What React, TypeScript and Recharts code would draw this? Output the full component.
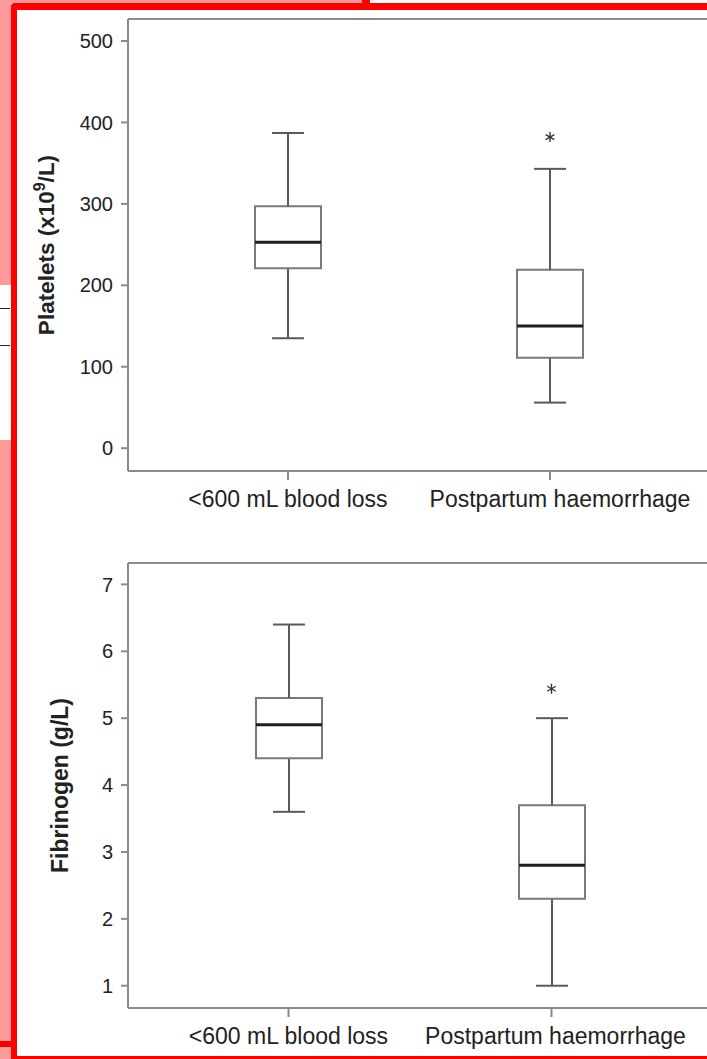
import React from 'react'
import { ComposedChart, Bar, Scatter, XAxis, YAxis, ReferenceLine, Label } from 'recharts'

const groups = ['<600 mL blood loss', 'Postpartum haemorrhage']

const plateletMin = [135, 56]
const plateletQ1 = [221, 111]
const plateletMedian = [253, 150]
const plateletQ3 = [297, 219]
const plateletMax = [387, 343]
const plateletOutlier = [null, 382]
const plateletTicks = [0, 100, 200, 300, 400, 500]

const fibrinogenMin = [3.6, 1.0]
const fibrinogenQ1 = [4.4, 2.3]
const fibrinogenMedian = [4.9, 2.8]
const fibrinogenQ3 = [5.3, 3.7]
const fibrinogenMax = [6.4, 5.0]
const fibrinogenOutlier = [null, 5.44]
const fibrinogenTicks = [1, 2, 3, 4, 5, 6, 7]

const FONT = '"Liberation Sans", Arial, Helvetica, sans-serif'
const AXIS = '#8a8a8a'
const BOX = '#7a7a7a'
const WHISKER = '#5a5a5a'
const TEXT = '#222'

const buildRows = (min: number[], q1: number[], med: number[], q3: number[], max: number[], out: (number | null)[]) =>
  groups.map((g, i) => ({
    group: g,
    base: min[i],
    lowWhisker: q1[i] - min[i],
    lowBox: med[i] - q1[i],
    highBox: q3[i] - med[i],
    highWhisker: max[i] - q3[i],
    outlier: out[i],
  }))

const plateletData = buildRows(plateletMin, plateletQ1, plateletMedian, plateletQ3, plateletMax, plateletOutlier)
const fibrinogenData = buildRows(fibrinogenMin, fibrinogenQ1, fibrinogenMedian, fibrinogenQ3, fibrinogenMax, fibrinogenOutlier)

const Empty = () => <g />

const LowWhisker = (props: any) => {
  const { x, y, width, height } = props
  const cx = x + width / 2
  return (
    <g stroke={WHISKER} strokeWidth={2}>
      <line x1={cx} x2={cx} y1={y} y2={y + height} />
      <line x1={cx - 16} x2={cx + 16} y1={y + height} y2={y + height} />
    </g>
  )
}

const HighWhisker = (props: any) => {
  const { x, y, width, height } = props
  const cx = x + width / 2
  return (
    <g stroke={WHISKER} strokeWidth={2}>
      <line x1={cx} x2={cx} y1={y} y2={y + height} />
      <line x1={cx - 16} x2={cx + 16} y1={y} y2={y} />
    </g>
  )
}

const LowBox = (props: any) => {
  const { x, y, width, height } = props
  return (
    <path d={`M${x},${y} V${y + height} H${x + width} V${y}`} fill="#fff" stroke={BOX} strokeWidth={2} />
  )
}

// upper half of the box, with the median drawn on its lower edge
const HighBox = (props: any) => {
  const { x, y, width, height } = props
  return (
    <g>
      <path d={`M${x},${y + height} V${y} H${x + width} V${y + height}`} fill="#fff" stroke={BOX} strokeWidth={2} />
      <line x1={x} x2={x + width} y1={y + height} y2={y + height} stroke="#1e1e1e" strokeWidth={3} />
    </g>
  )
}

const Asterisk = (props: any) => {
  const { cx, cy } = props
  if (cx == null || cy == null || props.payload?.outlier == null) return <g />
  const r = 5
  const d = r * Math.cos(Math.PI / 6)
  return (
    <g stroke="#333" strokeWidth={1.4}>
      <line x1={cx} x2={cx} y1={cy - r} y2={cy + r} />
      <line x1={cx - d} x2={cx + d} y1={cy - r / 2} y2={cy + r / 2} />
      <line x1={cx - d} x2={cx + d} y1={cy + r / 2} y2={cy - r / 2} />
    </g>
  )
}

const PlateletTitle = (props: any) => {
  const vb = props.viewBox || {}
  const x = (vb.x || 0) + 54
  const y = (vb.y || 0) + (vb.height || 0) / 2
  return (
    <text x={x} y={y} transform={`rotate(-90, ${x}, ${y})`} textAnchor="middle" fill={TEXT} fontSize={22.5} fontWeight="bold" fontFamily={FONT}>
      <tspan>Platelets (x10</tspan>
      <tspan dy={-9} fontSize={16}>9</tspan>
      <tspan dy={9}>/L)</tspan>
    </text>
  )
}

const FibrinogenTitle = (props: any) => {
  const vb = props.viewBox || {}
  const x = (vb.x || 0) + 68
  const y = (vb.y || 0) + (vb.height || 0) / 2
  return (
    <text x={x} y={y} transform={`rotate(-90, ${x}, ${y})`} textAnchor="middle" fill={TEXT} fontSize={23} fontWeight="bold" fontFamily={FONT}>
      Fibrinogen (g/L)
    </text>
  )
}

const makeGroupTick = (shift: number[]) => (props: any) => {
  const { x, y, payload, index } = props
  return (
    <text x={x + (shift[index] || 0)} y={y} dy="0.71em" textAnchor="middle" fill={TEXT} fontSize={23} fontFamily={FONT}>
      {payload.value}
    </text>
  )
}

interface BoxPanelProps {
  data: any[]
  domain: [number, number]
  ticks: number[]
  width: number
  height: number
  top: number
  xAxisHeight: number
  labelShift: number[]
  title: React.ReactElement
}

const BoxPanel = ({ data, domain, ticks, width, height, top, xAxisHeight, labelShift, title }: BoxPanelProps) => (
  <ComposedChart width={width} height={height} data={data} margin={{ top, right: 30, left: 0, bottom: 0 }}>
    <XAxis
      dataKey="group"
      interval={0}
      height={xAxisHeight}
      padding={{ left: 29, right: 29 }}
      axisLine={{ stroke: AXIS, strokeWidth: 2 }}
      tickLine={{ stroke: AXIS, strokeWidth: 2 }}
      tickSize={9}
      tickMargin={11}
      tick={makeGroupTick(labelShift)}
    />
    <YAxis
      type="number"
      domain={domain}
      ticks={ticks}
      allowDataOverflow
      width={128}
      axisLine={{ stroke: AXIS, strokeWidth: 2 }}
      tickLine={{ stroke: AXIS, strokeWidth: 2 }}
      tickSize={7}
      tickMargin={8}
      tick={{ fill: TEXT, fontSize: 20, fontFamily: FONT }}
    >
      <Label content={title} />
    </YAxis>
    <ReferenceLine y={domain[1]} stroke={AXIS} strokeWidth={2} />
    <Bar dataKey="base" stackId="b" barSize={66} shape={Empty} isAnimationActive={false} />
    <Bar dataKey="lowWhisker" stackId="b" barSize={66} shape={LowWhisker} isAnimationActive={false} />
    <Bar dataKey="lowBox" stackId="b" barSize={66} shape={LowBox} isAnimationActive={false} />
    <Bar dataKey="highBox" stackId="b" barSize={66} shape={HighBox} isAnimationActive={false} />
    <Bar dataKey="highWhisker" stackId="b" barSize={66} shape={HighWhisker} isAnimationActive={false} />
    <Scatter dataKey="outlier" shape={Asterisk} isAnimationActive={false} />
  </ComposedChart>
)

const App = () => {
  return (
    <div style={{ position: 'fixed', left: 0, top: 0, width: 707, height: 1059, overflow: 'hidden', background: '#fff' }}>
      <div style={{ position: 'absolute', left: 0, top: 0 }}>
        <BoxPanel
          data={plateletData}
          domain={[-28, 527]}
          ticks={plateletTicks}
          width={740}
          height={530}
          top={19}
          xAxisHeight={59}
          labelShift={[0, 10]}
          title={<PlateletTitle />}
        />
      </div>
      <div style={{ position: 'absolute', left: 0, top: 540 }}>
        <BoxPanel
          data={fibrinogenData}
          domain={[0.667, 7.32]}
          ticks={fibrinogenTicks}
          width={742}
          height={519}
          top={23}
          xAxisHeight={51}
          labelShift={[0, 4]}
          title={<FibrinogenTitle />}
        />
      </div>
      {/* screenshot annotation frame */}
      <div style={{ position: 'absolute', left: 0, top: 0, width: 11, height: 285, background: '#ff9a9a' }} />
      <div style={{ position: 'absolute', left: 0, top: 440, width: 11, height: 619, background: '#ff9a9a' }} />
      <div style={{ position: 'absolute', left: 0, top: 308, width: 10, height: 1, background: '#222' }} />
      <div style={{ position: 'absolute', left: 0, top: 345, width: 10, height: 1, background: '#222' }} />
      <div style={{ position: 'absolute', left: 0, top: 1041, width: 11, height: 6, background: '#ff0000' }} />
      <div style={{ position: 'absolute', left: 0, top: 0, width: 362, height: 3, background: '#ff9a9a' }} />
      <div style={{ position: 'absolute', left: 362, top: 0, width: 8, height: 3, background: '#ff0000' }} />
      <div style={{ position: 'absolute', left: 11, top: 3, width: 696, height: 7, background: '#ff0000', borderTopLeftRadius: 4 }} />
      <div style={{ position: 'absolute', left: 11, top: 3, width: 6, height: 1056, background: '#ff0000', borderTopLeftRadius: 4 }} />
      <div style={{ position: 'absolute', left: 11, top: 1056, width: 696, height: 3, background: '#ff0000' }} />
    </div>
  )
}

export default App
